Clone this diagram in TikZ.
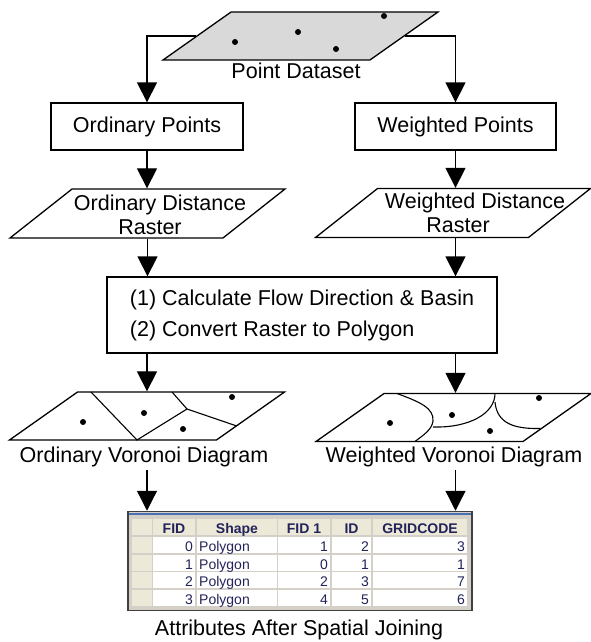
\documentclass[tikz,border=0pt]{standalone}
\usepackage{fontspec}
\setmainfont{Liberation Sans}
\usetikzlibrary{shapes.geometric, arrows.meta, positioning, calc}
\definecolor{dsgray}{HTML}{D9D9D9}
\definecolor{hdrbeige}{HTML}{ECE9D8}
\definecolor{gridgray}{HTML}{D4D0C8}
\definecolor{selblue}{HTML}{4A6FB5}
\definecolor{cellink}{HTML}{23235A}
\definecolor{tblline}{HTML}{404040}

\begin{document}
\begin{tikzpicture}[x=1pt, y=-1pt,
    font=\fontsize{21.5}{24.5}\selectfont,
    arr/.style={line width=1.3pt, -{Triangle[length=20pt,width=20pt]}},
    box/.style={draw, line width=1.3pt, inner sep=0pt},
    slab/.style={trapezium, draw, line width=1.3pt, inner xsep=0pt, inner ysep=24pt,
      trapezium stretches body, minimum width=275pt,
      trapezium left angle=35.2, trapezium right angle=144.8},
    raster/.style={slab, inner ysep=24.5pt, trapezium left angle=38.3, trapezium right angle=141.7},
    cellline/.style={line width=1.1pt},
    dot/.style={fill=black},
    tbltxt/.style={font=\fontsize{14}{16}\selectfont, text=cellink, inner sep=0pt}]
  \useasboundingbox (0,0) rectangle (591,642);

  \node[slab, fill=dsgray] (pd) at (300.5,36) {};
  \foreach \px/\py in {235/42, 298/32, 336/49, 384/16} {
    \fill[dot] (\px,\py) circle (3pt);
  }
  \node[anchor=base] (pdlbl) at (296,78) {Point Dataset};

  \node[box, minimum width=192pt, minimum height=47pt] (op) at (147,126.5) {Ordinary Points};
  \node[box, minimum width=201pt, minimum height=47pt] (wp) at (455.5,126.5) {Weighted Points};
  \draw[arr] (pd.west) -| (op.north);
  \draw[arr] (pd.east) -| (wp.north);

  \node[raster] (odr) at (147.5,213.5) {};
  \node[raster] (wdr) at (453,213) {};
  \node[align=center, inner sep=0pt] (odrtxt) at (150,215) {\hspace*{20pt}Ordinary Distance\\Raster};
  \node[align=center, inner sep=0pt] (wdrtxt) at (458,212.6) {\hspace*{34pt}Weighted Distance\\Raster};
  \draw[arr] (op.south) -- (op.south |- odr.north);
  \draw[arr] (wp.south) -- (wp.south |- wdr.north);

  \node[box, minimum width=390pt, minimum height=76pt, align=left,
    font=\fontsize{21.5}{31}\selectfont] (flow) at (302,315)
    {(1) Calculate Flow Direction \& Basin\\(2) Convert Raster to Polygon};
  \draw[arr] (odr.south) -- (odr.south |- flow.north);
  \draw[arr] (wp.south |- wdr.south) -- (wp.south |- flow.north);

  \node[slab] (ovd) at (147,416) {};
  \node[slab] (wvd) at (453.5,417.5) {};
  \draw[arr] (ovd.north |- flow.south) -- (ovd.north);
  \draw[arr] (wp.south |- flow.south) -- (wp.south |- wvd.north);
  \draw[cellline] (91,392) -- (137,440) -- (187,409) -- (172,392) (187,409) -- (236.8,426);
  \draw[cellline] (397,393.5) .. controls (420,402) and (434,408) .. (433,421)
    .. controls (432,430) and (422,436) .. (415,441.5);
  \draw[cellline] (495,393.5) .. controls (495,413) and (470,428) .. (433,427);
  \draw[cellline] (495,402) .. controls (497,424) and (515,429) .. (540.4,428.5);
  \foreach \px/\py in {83/422, 144/413, 183/429, 232/397, 390/423, 452/415, 490/431, 539/398} {
    \fill[dot] (\px,\py) circle (3pt);
  }
  \node[anchor=base] (ovdlbl) at (144,462) {Ordinary Voronoi Diagram};
  \node[anchor=base] (wvdlbl) at (454,462) {Weighted Voronoi Diagram};

  \node[draw=tblline, line width=1.5pt, fill=gridgray, inner sep=0pt,
    minimum width=344pt, minimum height=99pt] (tbl) at (300,561) {};
  \draw[arr] (ovd.north |- ovdlbl.south) -- (ovd.north |- tbl.north);
  \draw[arr] (wp.south |- wvdlbl.south) -- (wp.south |- tbl.north);
  \draw[selblue, line width=2pt] (129,514) -- (471,514);
  \foreach \xa/\xb in {132/152, 153/195, 197/277, 278/330, 332/371, 373/467} {
    \fill[hdrbeige] (\xa,519) rectangle (\xb,535);
  }
  \foreach \ya in {537, 554.5, 572, 589.5} {
    \fill[hdrbeige] (132,\ya) rectangle (152,\ya+16);
    \foreach \xa/\xb in {153/195, 197/277, 278/330, 332/371, 373/467} {
      \fill[white] (\xa,\ya) rectangle (\xb,\ya+16);
    }
  }
  \foreach \xc/\hd in {174/FID, 237/Shape, 304/FID 1, 351.5/ID, 420/GRIDCODE} {
    \node[tbltxt, anchor=base, font=\fontsize{14}{16}\selectfont\bfseries] at (\xc,533) {\hd};
  }
  \foreach \fid/\fidb/\id/\gc [count=\r from 0, evaluate=\r as \yb using 551.5+17.5*\r] in
      {0/1/2/3, 1/0/1/1, 2/2/3/7, 3/4/5/6} {
    \node[tbltxt, anchor=base east] at (193,\yb) {\fid};
    \node[tbltxt, anchor=base west] at (199,\yb) {Polygon};
    \node[tbltxt, anchor=base east] at (328,\yb) {\fidb};
    \node[tbltxt, anchor=base east] at (369,\yb) {\id};
    \node[tbltxt, anchor=base east] at (465,\yb) {\gc};
  }
  \node[anchor=base] (attlbl) at (299,635) {Attributes After Spatial Joining};
\end{tikzpicture}
\end{document}
